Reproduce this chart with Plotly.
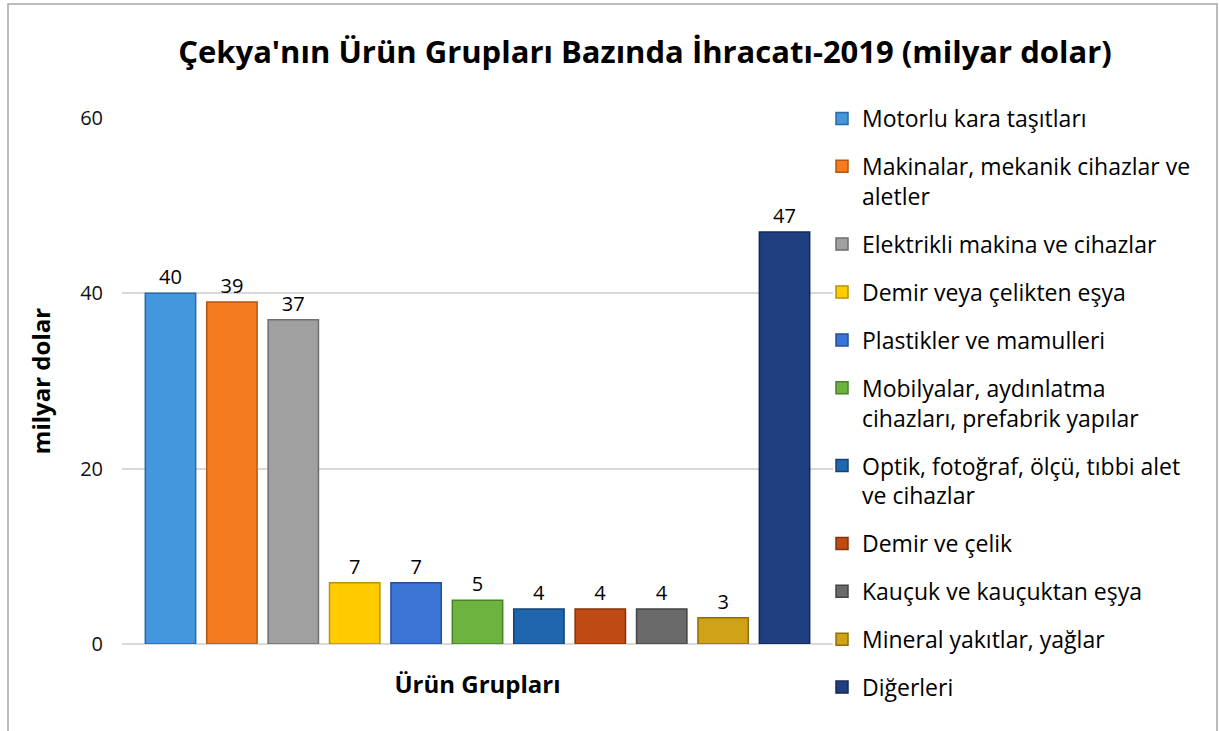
import plotly.graph_objects as go

categories = [
    "Motorlu kara taşıtları",
    "Makinalar, mekanik cihazlar ve<br>aletler",
    "Elektrikli makina ve cihazlar",
    "Demir veya çelikten eşya",
    "Plastikler ve mamulleri",
    "Mobilyalar, aydınlatma<br>cihazları, prefabrik yapılar",
    "Optik, fotoğraf, ölçü, tıbbi alet<br>ve cihazlar",
    "Demir ve çelik",
    "Kauçuk ve kauçuktan eşya",
    "Mineral yakıtlar, yağlar",
    "Diğerleri",
]
values = [40, 39, 37, 7, 7, 5, 4, 4, 4, 3, 47]
colors = ["#4496DD", "#F47B20", "#A0A0A0", "#FFCC00", "#3B74D4", "#6CB33F",
          "#1F66AE", "#BE4C12", "#6A6A6A", "#CFA315", "#1F3F80"]
edge_colors = ["#2A6AA8", "#B5550E", "#6E6E6E", "#B89200", "#244F9C", "#4A8228",
               "#134478", "#843208", "#444444", "#8E700A", "#13285A"]
group_label = ["Ürün Grupları"]
y_ticks = [0, 20, 40, 60]

FONT = "Open Sans"

fig = go.Figure()
for name, v, c, ec in zip(categories, values, colors, edge_colors):
    fig.add_trace(go.Bar(
        x=group_label, y=[v], name=name,
        marker=dict(color=c, line=dict(color=ec, width=1.5)),
        text=[str(v)], textposition="outside",
        textfont=dict(size=20, color="#000000", family=FONT),
        cliponaxis=False,
        legendgroup=name,
    ))

W, H = 1219, 731
L, R, T, B = 122, 1219 - 833, 118, 731 - 644
pw, ph = W - L - R, H - T - B

fig.update_layout(
    width=W, height=H,
    margin=dict(l=L, r=R, t=T, b=B, autoexpand=False),
    paper_bgcolor="white", plot_bgcolor="white",
    font=dict(family=FONT, color="#000000"),
    barmode="group", bargap=0.05, bargroupgap=0.18,
    title=dict(text="<b>Çekya'nın Ürün Grupları Bazında İhracatı-2019 (milyar dolar)</b>",
               x=645 / W, xanchor="center", y=1 - 52 / H, yanchor="middle",
               font=dict(size=31, family=FONT, color="#000000")),
    xaxis=dict(showticklabels=False, showline=False, showgrid=False, ticks="",
               title=dict(text="<b>Ürün Grupları</b>", font=dict(size=24, family=FONT), standoff=32)),
    yaxis=dict(range=[0, 60], tickvals=y_ticks, showgrid=True, gridcolor="#D9D9D9", gridwidth=1.5,
               zeroline=True, zerolinecolor="#D9D9D9", zerolinewidth=1.5,
               showline=False, ticks="", tickfont=dict(size=20, family=FONT, color="#111111"),
               ticklabelstandoff=18,
               title=dict(text="<b>milyar dolar</b>", font=dict(size=24, family=FONT), standoff=22)),
    legend=dict(x=1 + (822 - (L + pw)) / pw, xanchor="left", y=1.04, yanchor="top",
                font=dict(size=23, family=FONT, color="#000000"),
                tracegroupgap=15, valign="top", bgcolor="rgba(0,0,0,0)",
                itemwidth=30, maxheight=1.0),
    showlegend=True,
)

# outer chart border
fig.add_shape(type="rect", xref="paper", yref="paper",
              x0=(8 - L) / pw, x1=(1217 - L) / pw,
              y0=-(745 - (T + ph)) / ph, y1=1 + (T - 4) / ph,
              line=dict(color="#A6A6A6", width=1.5), fillcolor="rgba(0,0,0,0)", layer="below")

fig.write_html("out.html", config={"displayModeBar": False},
               post_script="document.body.style.margin='0px';")
